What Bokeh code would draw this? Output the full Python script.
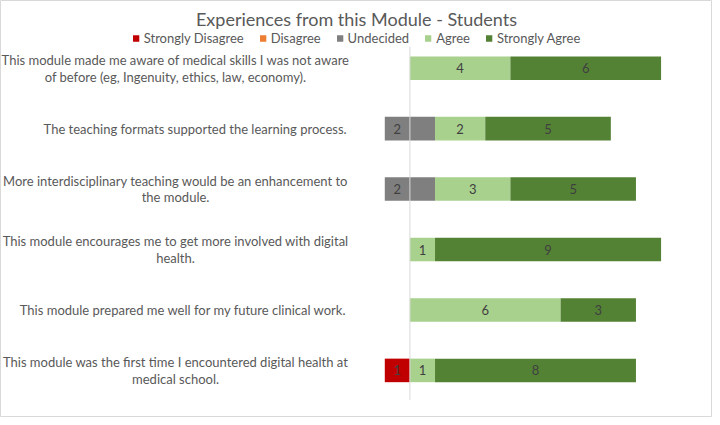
import numpy as np
from bokeh.plotting import figure
from bokeh.models import Range1d, Legend, LegendItem
from bokeh.core.properties import value
from bokeh.embed import file_html
from bokeh.resources import INLINE

# ---------------- data ----------------
title_text = "Experiences from this Module - Students"
statements = [
    "This module made me aware of medical skills I was not aware\nof before (eg, Ingenuity, ethics, law, economy).",
    "The teaching formats supported the learning process.",
    "More interdisciplinary teaching would be an enhancement to\nthe module.",
    "This module encourages me to get more involved with digital\nhealth.",
    "This module prepared me well for my future clinical work.",
    "This module was the first time I encountered digital health at\nmedical school.",
]
series_names = ["Strongly Disagree", "Disagree", "Undecided", "Agree", "Strongly Agree"]
strongly_disagree = [0, 0, 0, 0, 0, 1]
disagree = [0, 0, 0, 0, 0, 0]
undecided = [0, 2, 2, 0, 0, 0]
agree = [4, 2, 3, 1, 6, 1]
strongly_agree = [6, 5, 5, 9, 3, 8]

colors = ["#C00000", "#ED7D31", "#7F7F7F", "#A9D18E", "#548235"]

# ---------------- layout helpers ----------------
W, H = 712, 417
SX, SY = W / 720, H / 425
X0, UX = 414 * SX, 25.4 * SX
Y0, UY = 69 * SY, 61.6 * SY
n = len(statements)
TOP = n  # y value of first row


def rx(px):
    return (px * SX - X0) / UX


def ry(py):
    return TOP - (py * SY - Y0) / UY


FONT = value("Lato")
TXT = "#595959"

p = figure(width=W, height=H, output_backend="svg", toolbar_location=None,
           x_range=Range1d(rx(0), rx(720)), y_range=Range1d(ry(425), ry(0)),
           x_axis_location=None, y_axis_location=None, min_border=0)
p.grid.visible = False
p.outline_line_color = "#D9D9D9"
p.background_fill_color = "white"
p.border_fill_color = "white"

ys = np.array([TOP - i for i in range(n)], dtype=float)
sd = np.array(strongly_disagree, float)
di = np.array(disagree, float)
un = np.array(undecided, float)
ag = np.array(agree, float)
sa = np.array(strongly_agree, float)

un_l, un_r = -un / 2, un / 2
di_r = un_l
di_l = di_r - di
sd_r = di_l
sd_l = sd_r - sd
ag_l = un_r
ag_r = ag_l + ag
sa_l = ag_r
sa_r = sa_l + sa

segs = [(sd_l, sd_r, sd), (di_l, di_r, di), (un_l, un_r, un), (ag_l, ag_r, ag), (sa_l, sa_r, sa)]
BAR_H = 24 / 61.6

renderers = []
for (l, r, v), c in zip(segs, colors):
    rr = p.hbar(y=ys, left=l, right=r, height=BAR_H, fill_color=c, line_color=None)
    renderers.append(rr)

# zero axis line
p.segment(x0=[0], y0=[ry(47)], x1=[0], y1=[ry(407)], line_color="#D9D9D9", line_width=1)

# value labels
lx, ly, lt = [], [], []
for k, (l, r, v) in enumerate(segs):
    for i in range(n):
        if v[i] > 0:
            if series_names[k] == "Undecided":
                lx.append((l[i] + 0) / 2)
            else:
                lx.append((l[i] + r[i]) / 2)
            ly.append(ys[i])
            lt.append(str(int(v[i])))
p.text(x=lx, y=ly, text=lt, text_align="center", text_baseline="middle",
       text_font=FONT, text_font_size="13px", text_color="#404040")

# category labels
LINE_OFF = 8.5 * SY / UY
for i, s in enumerate(statements):
    lines = s.split("\n")
    if len(lines) == 1:
        p.text(x=[rx(350)], y=[ys[i]], text=[lines[0]], text_align="right", text_baseline="middle",
               text_font=FONT, text_font_size="13px", text_color=TXT)
    else:
        p.text(x=[rx(177), rx(177)], y=[ys[i] + LINE_OFF, ys[i] - LINE_OFF], text=lines,
               text_align="center", text_baseline="middle",
               text_font=FONT, text_font_size="13px", text_color=TXT)

# title
p.text(x=[rx(360)], y=[ry(19)], text=[title_text], text_align="center", text_baseline="middle",
       text_font=FONT, text_font_size="18px", text_color=TXT)

legend = Legend(items=[LegendItem(label=nm, renderers=[r]) for nm, r in zip(series_names, renderers)],
                orientation="horizontal", location="top_center", margin=0, padding=0,
                glyph_width=8, glyph_height=8, label_height=14, label_standoff=4, spacing=15,
                label_text_font="Lato", label_text_font_size="13px", label_text_color=TXT,
                background_fill_alpha=0, border_line_color=None)
legend.margin = 30
p.add_layout(legend)

open("out.html", "w").write(file_html(p, INLINE))
